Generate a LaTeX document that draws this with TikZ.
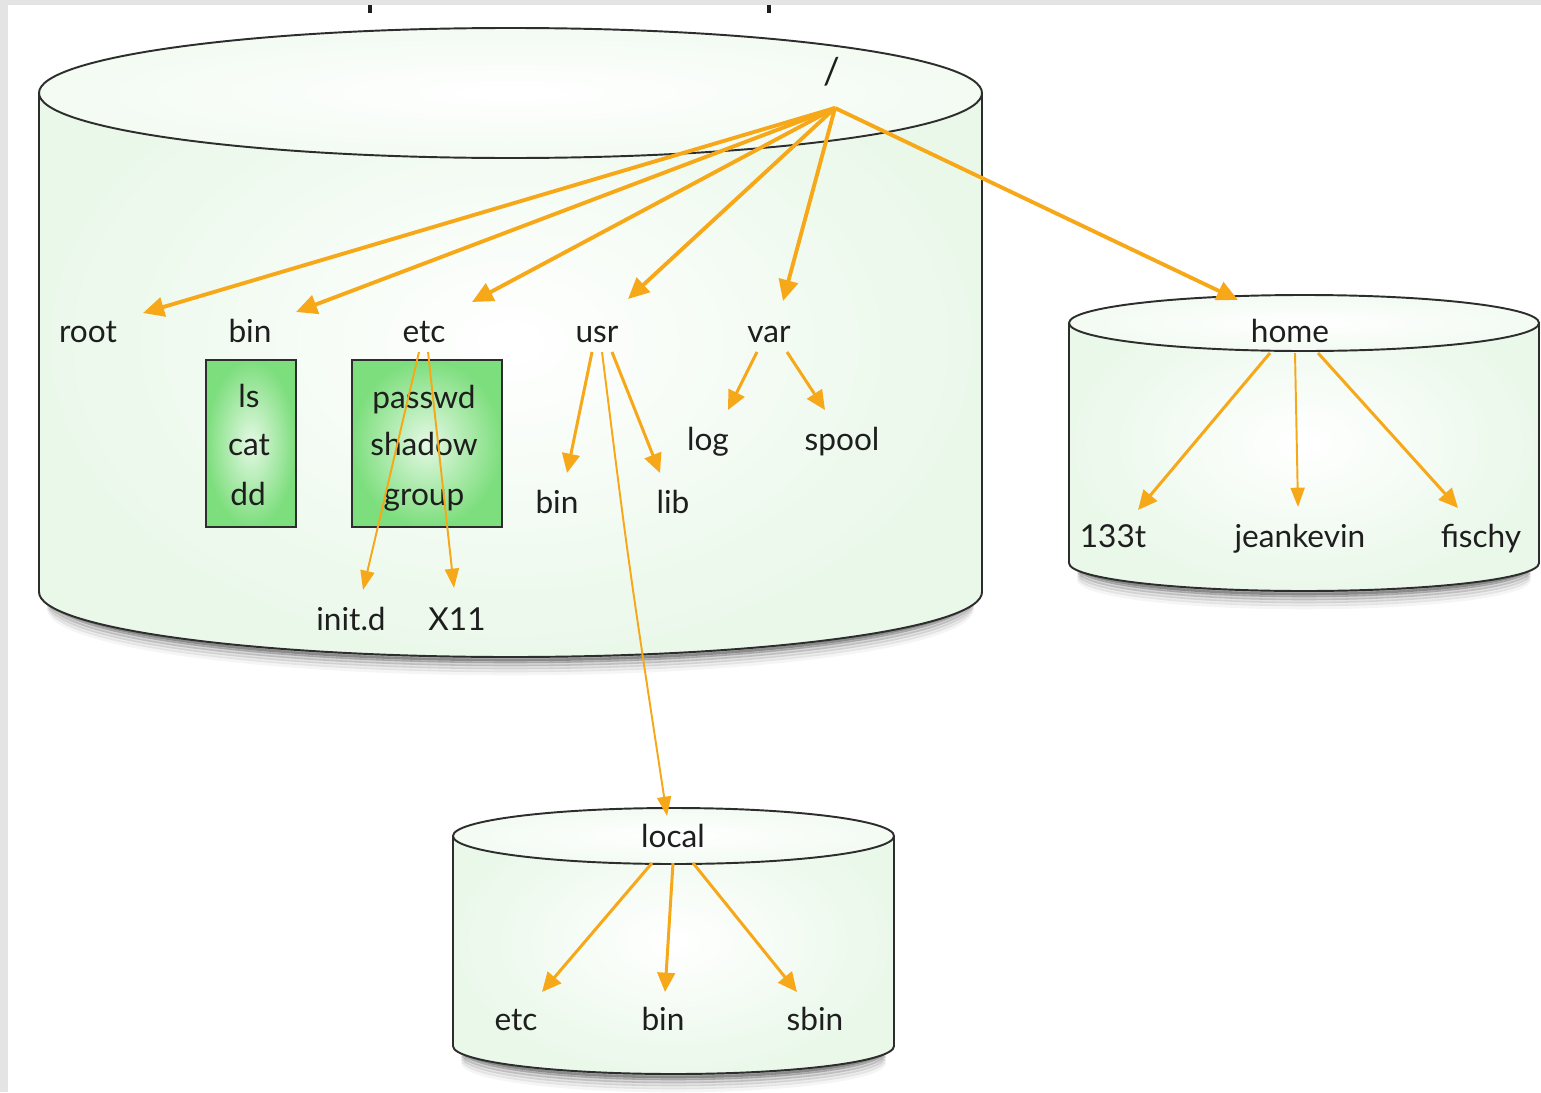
\documentclass[tikz,border=0pt]{standalone}
\usepackage{fontspec}
\setmainfont{Lato}
\usetikzlibrary{arrows.meta,calc}

\definecolor{arrowc}{RGB}{247,168,24}
\definecolor{rimc}{RGB}{45,45,45}
\definecolor{pale}{RGB}{234,248,234}
\definecolor{boxgreen}{RGB}{125,222,125}
\definecolor{framec}{RGB}{228,228,228}
\definecolor{inkc}{RGB}{30,30,30}

% A drum (cylinder seen from slightly above).
% #1 centre x, #2 top-face centre y, #3 bottom-face centre y, #4 x radius, #5 y radius
% y values grow downward.
\newcommand\drum[5]{%
  \foreach \sd/\so in {16/0.04,13/0.07,10/0.11,7/0.16,4/0.22,2/0.3}{%
    \draw[black,opacity=\so,line width=2.6pt]
      ({#1-#4+10},{-(#3)-\sd}) arc[start angle=180,end angle=360,x radius={#4-10},y radius=#5];}
  \shade[inner color=white,outer color=pale]
    ({#1-#4},{-(#2)}) -- ({#1-#4},{-(#3)})
    arc[start angle=180,end angle=360,x radius=#4,y radius=#5]
    -- ({#1+#4},{-(#2)})
    arc[start angle=0,end angle=180,x radius=#4,y radius=#5] -- cycle;
  \draw[rim] ({#1-#4},{-(#2)}) -- ({#1-#4},{-(#3)})
    arc[start angle=180,end angle=360,x radius=#4,y radius=#5]
    -- ({#1+#4},{-(#2)});
  \shade[inner color=white,outer color=pale!60!white] (#1,{-(#2)}) ellipse[x radius=#4,y radius=#5];
  \draw[rim] (#1,{-(#2)}) ellipse[x radius=#4,y radius=#5];
}

\begin{document}
\begin{tikzpicture}[x=0.02cm,y=0.02cm,
  rim/.style={draw=rimc,line width=1.1pt},
  lbl/.style={font=\fontsize{18}{20}\selectfont,anchor=base,inner sep=0pt,text=inkc},
  filebox/.style={rectangle,draw=rimc,line width=1.1pt,inner color=boxgreen!20!white,
    outer color=boxgreen,minimum height=3.34cm},
  link/.style={draw=arrowc,line width=2.2pt,-{Triangle[length=12pt,width=11pt]}},
  sublink/.style={draw=arrowc,line width=1.7pt,-{Triangle[length=11pt,width=10pt]}},
  thinlink/.style={draw=arrowc,line width=1.1pt,-{Triangle[length=11pt,width=8pt]}},
  tick/.style={draw=inkc,line width=2.2pt}]

% page
\fill[white] (0,0) rectangle (1541,-1092);
\useasboundingbox (0,0) rectangle (1541,-1092);
\fill[framec] (0,0) rectangle (1541,-5);
\fill[framec] (0,0) rectangle (8,-1092);
\draw[tick] (370,-5) -- (370,-13);
\draw[tick] (769,-5) -- (769,-13);

% the three drums
\drum{510.5}{93}{592}{471.5}{65}
\drum{1304}{323}{563}{235}{28}
\drum{673.5}{836}{1046}{220.5}{28}

% file boxes under bin and etc
\node[filebox,minimum width=1.8cm] (binbox) at (251,-443.5) {};
\node[filebox,minimum width=3cm] (etcbox) at (427,-443.5) {};

% labels on the root drum
\node[lbl,font=\fontsize{21}{24}\selectfont,anchor=center] (slash) at (832,-72) {/};
\node[lbl] (root) at (88,-342) {root};
\node[lbl] (bin) at (250,-342) {bin};
\node[lbl] (etc) at (424,-342) {etc};
\node[lbl] (usr) at (597,-342) {usr};
\node[lbl] (var) at (769,-342) {var};
\node[lbl] (ls) at (249,-407) {ls};
\node[lbl] (cat) at (249,-455) {cat};
\node[lbl] (dd) at (248,-505) {dd};
\node[lbl] (passwd) at (424,-408) {passwd};
\node[lbl] (shadow) at (424,-455) {shadow};
\node[lbl] (group) at (424,-505) {group};
\node[lbl] (initd) at (351,-630) {init.d};
\node[lbl] (x11) at (457,-630) {X11};
\node[lbl] (usrbin) at (557,-513) {bin};
\node[lbl] (lib) at (673,-513) {lib};
\node[lbl] (log) at (708,-450) {log};
\node[lbl] (spool) at (842,-450) {spool};

% labels on the home drum
\node[lbl] (home) at (1290,-342) {home};
\node[lbl] (leet) at (1113,-547) {133t};
\node[lbl] (jk) at (1300,-547) {jeankevin};
\node[lbl] (fischy) at (1481,-547) {fischy};

% labels on the local drum
\node[lbl] (local) at (673,-847) {local};
\node[lbl] (letc) at (516,-1030) {etc};
\node[lbl] (lbin) at (663,-1030) {bin};
\node[lbl] (sbin) at (815,-1030) {sbin};

% arrow ends
\coordinate (hub) at (835,-108);
\coordinate (root-in) at (143,-313);
\coordinate (bin-in) at (296,-312);
\coordinate (etc-in) at (472,-302);
\coordinate (usr-in) at (628,-299);
\coordinate (var-in) at (783,-301);
\coordinate (home-in) at (1238,-300);
\coordinate (etc-outa) at (419,-352);
\coordinate (etc-outb) at (428,-352);
\coordinate (initd-in) at (363,-590);
\coordinate (x11-in) at (454,-588);
\coordinate (usr-outa) at (592,-352);
\coordinate (usr-outb) at (612,-352);
\coordinate (usr-outc) at (602,-352);
\coordinate (usrbin-in) at (567,-473);
\coordinate (lib-in) at (660,-473);
\coordinate (local-in) at (667,-816);
\coordinate (var-outa) at (757,-352);
\coordinate (var-outb) at (787,-352);
\coordinate (log-in) at (728,-410);
\coordinate (spool-in) at (825,-410);
\coordinate (home-outa) at (1270,-353);
\coordinate (home-outb) at (1295,-353);
\coordinate (home-outc) at (1318,-353);
\coordinate (leet-in) at (1138,-510);
\coordinate (jk-in) at (1298,-507);
\coordinate (fischy-in) at (1458,-508);
\coordinate (local-outa) at (652,-863);
\coordinate (local-outb) at (673,-863);
\coordinate (local-outc) at (693,-863);
\coordinate (letc-in) at (542,-992);
\coordinate (lbin-in) at (665,-992);
\coordinate (sbin-in) at (797,-992);

% from the root directory
\draw[link] (hub) -- (root-in);
\draw[link] (hub) -- (bin-in);
\draw[link] (hub) -- (etc-in);
\draw[link] (hub) -- (usr-in);
\draw[link] (hub) -- (var-in);
\draw[link] (hub) -- (home-in);

% etc
\draw[thinlink] (etc-outa) -- (initd-in);
\draw[thinlink] (etc-outb) -- (x11-in);

% usr
\draw[sublink] (usr-outa) -- (usrbin-in);
\draw[sublink] (usr-outb) -- (lib-in);
\draw[thinlink] (usr-outc) .. controls (628,-560) .. (local-in);

% var
\draw[sublink] (var-outa) -- (log-in);
\draw[sublink] (var-outb) -- (spool-in);

% home
\draw[sublink] (home-outa) -- (leet-in);
\draw[thinlink] (home-outb) -- (jk-in);
\draw[sublink] (home-outc) -- (fischy-in);

% local
\draw[sublink] (local-outa) -- (letc-in);
\draw[sublink] (local-outb) -- (lbin-in);
\draw[sublink] (local-outc) -- (sbin-in);
\end{tikzpicture}
\end{document}
